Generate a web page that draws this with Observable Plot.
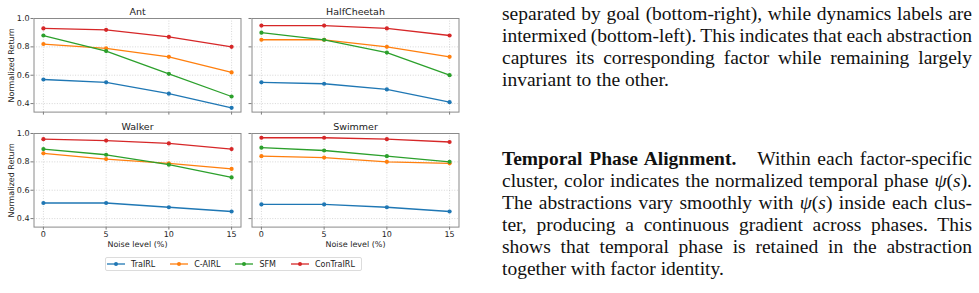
<!DOCTYPE html>
<html>
<head>
<meta charset="utf-8">
<script src="https://cdn.jsdelivr.net/npm/d3@7"></script>
<script src="https://cdn.jsdelivr.net/npm/@observablehq/plot@0.6"></script>
<style>
  html, body { margin: 0; padding: 0; background: #fff; }
  body { position: relative; width: 979px; height: 293px; overflow: hidden; font-family: "DejaVu Sans", sans-serif; }
  .panel { position: absolute; }
  #legend {
    position: absolute; left: 105px; top: 257px; width: 253px; height: 12px;
    border: 1px solid #dcdcdc; border-radius: 2px; background: #fff;
    display: flex; align-items: center; gap: 15px; padding: 0 1px 0 1px;
    font-size: 8px; color: #222;
  }
  #legend .item { display: flex; align-items: center; gap: 6px; white-space: nowrap; }
  #legend svg { display: block; }
  .prose { position: absolute; left: 502px; width: 470px; font-family: "Liberation Serif", "Times New Roman", serif; font-size: 19.5px; word-spacing: -1.2px; color: #111; }
  .prose .ln { height: 22px; line-height: 22px; text-align: justify; text-align-last: justify; }
  .prose .ln.last { text-align: left; text-align-last: left; word-spacing: 0; }
  .prose b { margin-right: 0.75em; }
</style>
</head>
<body>
<div id="panels"></div>
<div id="legend"></div>

<div class="prose" style="top: 3px;">
  <div class="ln">separated by goal (bottom-right), while dynamics labels are</div>
  <div class="ln">intermixed (bottom-left). This indicates that each abstraction</div>
  <div class="ln">captures its corresponding factor while remaining largely</div>
  <div class="ln last">invariant to the other.</div>
</div>
<div class="prose" style="top: 148px;">
  <div class="ln"><b>Temporal Phase Alignment.</b> Within each factor-specific</div>
  <div class="ln">cluster, color indicates the normalized temporal phase <i>ψ</i>(<i>s</i>).</div>
  <div class="ln">The abstractions vary smoothly with <i>ψ</i>(<i>s</i>) inside each clus-</div>
  <div class="ln">ter, producing a continuous gradient across phases. This</div>
  <div class="ln">shows that temporal phase is retained in the abstraction</div>
  <div class="ln last">together with factor identity.</div>
</div>

<script>
// Noise levels on the x axis and the compared methods
const noiseLevels = [0, 5, 10, 15];
const methods = ["TraIRL", "C-AIRL", "SFM", "ConTraIRL"];
const methodColors = ["#1f77b4", "#ff7f0e", "#2ca02c", "#d62728"];
const yTicks = [0.4, 0.6, 0.8, 1.0];

// Normalized return; one row per method (order of `methods`), one column per noise level
const ant = [
  [0.57, 0.55, 0.47, 0.37],
  [0.82, 0.79, 0.73, 0.62],
  [0.88, 0.77, 0.61, 0.45],
  [0.93, 0.92, 0.87, 0.80]
];
const halfCheetah = [
  [0.55, 0.54, 0.50, 0.41],
  [0.85, 0.85, 0.80, 0.73],
  [0.90, 0.85, 0.76, 0.60],
  [0.95, 0.95, 0.93, 0.88]
];
const walker = [
  [0.51, 0.51, 0.48, 0.45],
  [0.86, 0.82, 0.79, 0.75],
  [0.89, 0.85, 0.78, 0.69],
  [0.96, 0.95, 0.93, 0.89]
];
const swimmer = [
  [0.50, 0.50, 0.48, 0.45],
  [0.84, 0.83, 0.80, 0.79],
  [0.90, 0.88, 0.84, 0.80],
  [0.97, 0.97, 0.96, 0.94]
];

const envTitles = ["Ant", "HalfCheetah", "Walker", "Swimmer"];
const envData = [ant, halfCheetah, walker, swimmer];

// Layout of the 2x2 grid (top/bottom row, left/right column)
const frameW = 207, frameH = 93.6, mLeft = 33.5, mTop = 18;
const colLeft = [0, 217.5];
const rowTop = [0, 115.3];

function toRows(series) {
  const rows = [];
  series.forEach((vals, m) => vals.forEach((v, i) => rows.push({method: methods[m], noise: noiseLevels[i], value: v})));
  return rows;
}

function panel(title, series, col, row) {
  const bottom = row === 1;
  const left = col === 0;
  const mBottom = bottom ? 28 : 12;
  const rows = toRows(series);
  const gridStyle = {stroke: "#b8b8b8", strokeOpacity: 0.7, strokeDasharray: "1,1.6", strokeWidth: 0.8};
  const marks = [
    Plot.gridX(noiseLevels, gridStyle),
    Plot.gridY(yTicks, gridStyle),
    Plot.axisX(noiseLevels, {
      tickSize: 3, tickPadding: 1, stroke: "#7a7a7a", fill: "#222",
      tickFormat: bottom ? (d) => String(d) : () => "", label: null
    }),
    Plot.axisY(yTicks, {
      tickSize: 3, tickPadding: 1.5, stroke: "#7a7a7a", fill: "#222",
      tickFormat: left ? (d) => d.toFixed(1) : () => "", label: null
    }),
    Plot.frame({stroke: "#8a8a8a", strokeWidth: 1})
  ];
  methods.forEach((m) => {
    const sub = rows.filter((d) => d.method === m);
    marks.push(Plot.line(sub, {x: "noise", y: "value", stroke: "method", strokeWidth: 1.3}));
    marks.push(Plot.dot(sub, {x: "noise", y: "value", fill: "method", r: 2.1}));
  });
  marks.push(Plot.text([title], {frameAnchor: "top", lineAnchor: "bottom", dy: -3.5, fontSize: 9.5, fill: "#222"}));
  if (left) {
    marks.push(Plot.text(["Normalized Return"], {
      frameAnchor: "left", textAnchor: "middle", lineAnchor: "middle",
      rotate: -90, dx: -23, fontSize: 8, fill: "#222"
    }));
  }
  if (bottom) {
    marks.push(Plot.text(["Noise level (%)"], {
      frameAnchor: "bottom", textAnchor: "middle", lineAnchor: "middle",
      dy: 17, fontSize: 8, fill: "#222"
    }));
  }
  const svg = Plot.plot({
    width: mLeft + frameW + 5,
    height: mTop + frameH + mBottom,
    marginLeft: mLeft, marginRight: 5, marginTop: mTop, marginBottom: mBottom,
    x: {domain: [-0.75, 15.75]},
    y: {domain: [0.34, 1.0]},
    color: {domain: methods, range: methodColors},
    style: {fontFamily: "DejaVu Sans", fontSize: "8px", background: "transparent", overflow: "visible"},
    marks
  });
  svg.classList.add("panel");
  svg.style.left = colLeft[col] + "px";
  svg.style.top = rowTop[row] + "px";
  document.getElementById("panels").appendChild(svg);
}

envData.forEach((series, k) => panel(envTitles[k], series, k % 2, Math.floor(k / 2)));

// Legend: line sample with marker, then method name
const legend = document.getElementById("legend");
methods.forEach((m, i) => {
  const item = document.createElement("div");
  item.className = "item";
  const c = methodColors[i];
  item.innerHTML = `<svg width="18" height="6"><line x1="0" y1="3" x2="18" y2="3" stroke="${c}" stroke-width="1.3"/><circle cx="9" cy="3" r="2" fill="${c}"/></svg><span>${m}</span>`;
  legend.appendChild(item);
});
</script>
</body>
</html>
